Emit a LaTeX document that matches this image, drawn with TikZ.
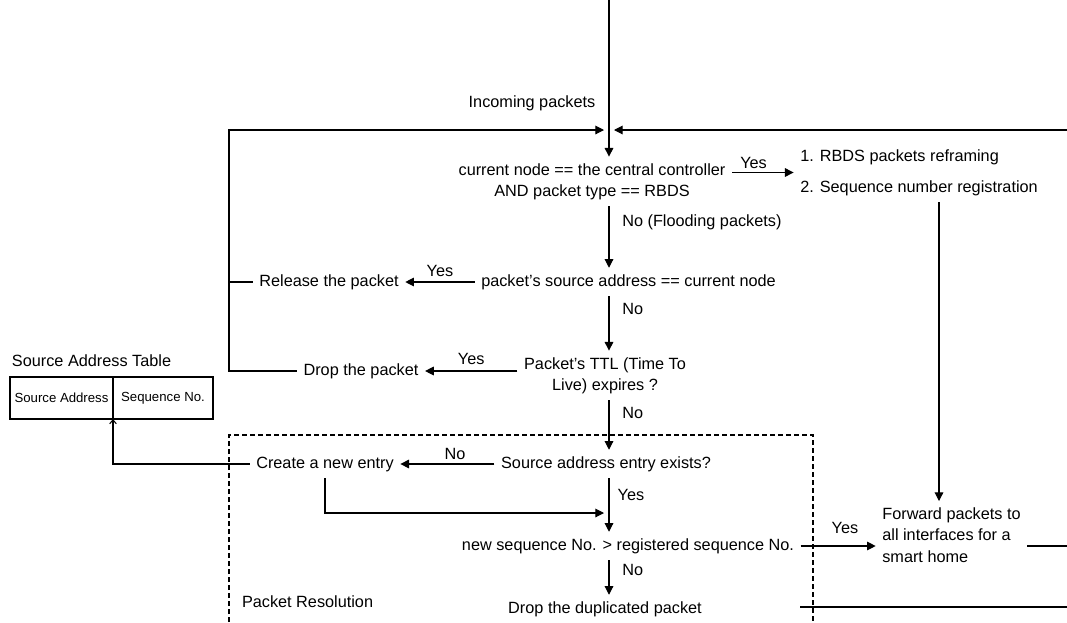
\documentclass[tikz,border=0pt]{standalone}
\usepackage{fontspec}
\setmainfont{Liberation Sans}
\usetikzlibrary{arrows.meta}
\begin{document}
\begin{tikzpicture}[x=0.75pt,y=-0.75pt,
  line width=0.8pt,
  txt/.style={font=\fontsize{12.2pt}{16pt}\selectfont, inner sep=0pt, outer sep=5pt},
  multi/.style={txt, align=center},
  lbl/.style={font=\fontsize{12.2pt}{16pt}\selectfont, inner sep=0pt, outer sep=0pt},
  arr/.style={-{Triangle[length=6.5pt,width=6.5pt]}},
  barb/.style={-{Straight Barb[length=3pt,width=5pt]}},
  cell/.style={draw, line width=0.8pt, inner sep=0pt, outer sep=0pt, minimum height=31.5pt, font=\fontsize{9.9pt}{12pt}\selectfont},
  region/.style={dash pattern=on 3.75pt off 2.25pt}]
\useasboundingbox (0,0) rectangle (1067,622);

% helper coordinates
\coordinate (top) at (609,0);
\coordinate (joinL) at (604,130);
\coordinate (joinR) at (614,130);
\coordinate (lx) at (229,130);
\coordinate (rx) at (1067,130);
\coordinate (vx) at (939,0);
\coordinate (mergeL) at (604,513);
\coordinate (fwdout) at (1067,546);
\coordinate (dupA) at (800,607);
\coordinate (dupB) at (1067,607);

% nodes
\node[lbl] (inc) at (532,103) {Incoming packets};
\node[multi] (n1) at (592,181.5) {current node == the central controller\\AND packet type == RBDS};
\node[txt, align=left, font=\fontsize{12.2pt}{23.3pt}\selectfont] (steps) at (919,172.5) {1. RBDS packets reframing\\2. Sequence number registration};
\node[txt] (n2) at (628.5,282) {packet's source address == current node};
\node[txt] (rel) at (329,282) {Release the packet};
\node[multi] (n3) at (605,375.5) {Packet's TTL (Time To\\Live) expires ?};
\node[txt] (drop) at (361,371) {Drop the packet};
\node[txt] (n4) at (606,464) {Source address entry exists?};
\node[txt] (new) at (325,464) {Create a new entry};
\node[txt] (n5) at (628,546) {new sequence No. > registered sequence No.};
\node[txt, align=left] (fwd) at (951.5,535) {Forward packets to\\all interfaces for a\\smart home};
\node[txt] (n6) at (605,609) {Drop the duplicated packet};
\node[lbl, anchor=west] (pr) at (242,602) {Packet Resolution};
\node[lbl, anchor=west] (sat) at (12,361) {Source Address Table};
\node[cell, minimum width=77.25pt] (tsa) at (61.5,398) {Source Address};
\node[cell, minimum width=75pt] (tsn) at (163,398) {Sequence No.};

% connectors
\draw[arr] (top) -- (n1.north -| top);
\draw[arr] (drop.west) -- (drop.west -| lx) -- (lx) -- (joinL);
\draw (rel.west) -- (rel.west -| lx);
\draw[arr] (rx) -- (joinR);
\draw[arr] (n1.east |- steps.west) -- (steps.west) node[lbl, pos=0.35, above=3pt] {Yes};
\draw[arr] (n1.south -| top) -- (n2.north -| top) node[lbl, pos=0.26, right=10pt] {No (Flooding packets)};
\draw[arr] (n2.west) -- (rel.east) node[lbl, midway, above=3.75pt] {Yes};
\draw[arr] (n2.south -| top) -- (n3.north -| top) node[lbl, pos=0.24, right=10pt] {No};
\draw[arr] (n3.west |- drop.east) -- (drop.east) node[lbl, pos=0.5, above=5pt] {Yes};
\draw[arr] (n3.south -| top) -- (n4.north -| top) node[lbl, pos=0.25, right=10pt] {No};
\draw[arr] (n4.west) -- (new.east) node[lbl, pos=0.42, above=3pt] {No};
\draw[barb] (new.west) -| (tsa.south east);
\draw[arr] (new.south) |- (mergeL);
\draw[arr] (n4.south -| top) -- (n5.north -| top) node[lbl, pos=0.32, right=6.5pt] {Yes};
\draw[arr] (n5.east) -- (n5.east -| fwd.west) node[lbl, pos=0.59, above=9.5pt] {Yes};
\draw (fwd.east |- fwdout) -- (fwdout);
\draw[arr] (steps.south -| vx) -- (fwd.north -| vx);
\draw[arr] (n5.south -| top) -- (n6.north -| top) node[lbl, pos=0.27, right=10pt] {No};
\draw (dupA) -- (dupB);
\draw[region] (229,622) -- (229,435) -- (813,435) -- (813,622);
\end{tikzpicture}
\end{document}
